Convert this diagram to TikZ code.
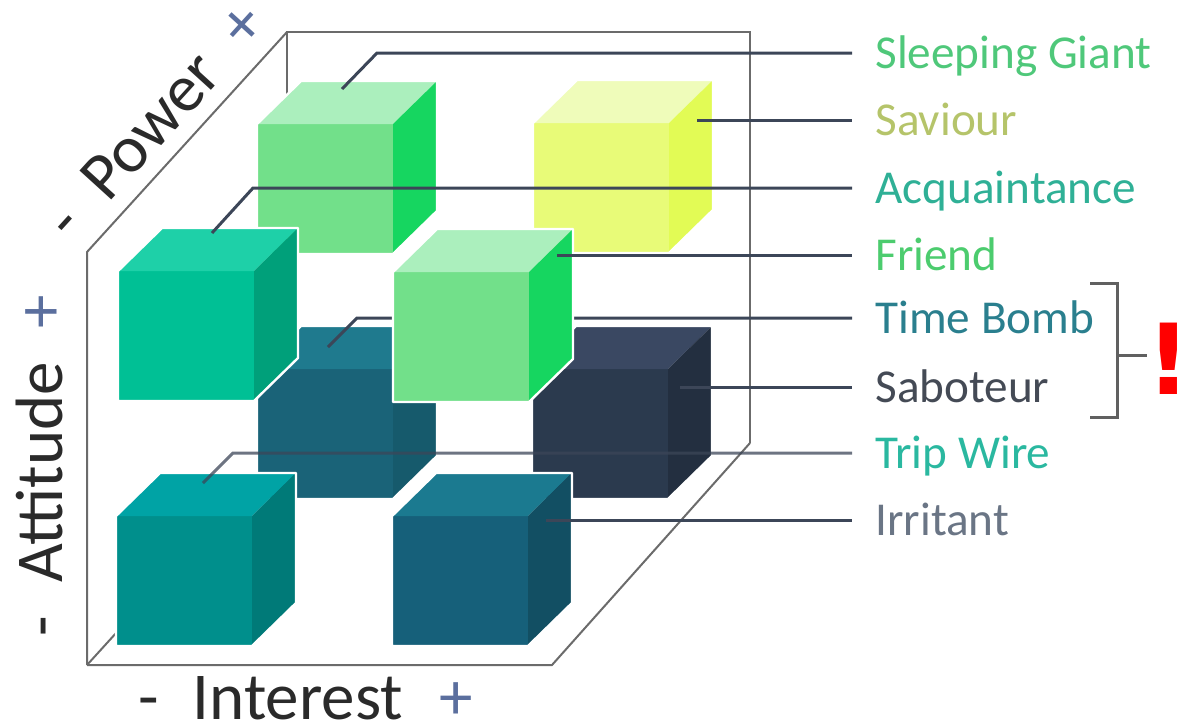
\documentclass[tikz,border=0pt]{standalone}
\usepackage{fontspec}
\setmainfont{Carlito}
\newfontfamily\bangfont{DejaVu Sans}
\usepackage{xcolor}
\usetikzlibrary{positioning}

\definecolor{framegrey}{HTML}{6B6B6B}
\definecolor{leadergrey}{HTML}{3C4658}
\definecolor{plusblue}{HTML}{5B6F9E}
\definecolor{axistext}{HTML}{2A2A2A}

\definecolor{lgfront}{HTML}{72E08A}
\definecolor{lgtop}{HTML}{ABEFBD}
\definecolor{lgside}{HTML}{16D660}
\definecolor{yefront}{HTML}{E8FB78}
\definecolor{yetop}{HTML}{EFFCBA}
\definecolor{yeside}{HTML}{E2FB55}
\definecolor{aqfront}{HTML}{00C095}
\definecolor{aqtop}{HTML}{1ED0A8}
\definecolor{aqside}{HTML}{00A07A}
\definecolor{tbfront}{HTML}{1A6378}
\definecolor{tbtop}{HTML}{1F7A8E}
\definecolor{tbside}{HTML}{165A6C}
\definecolor{sbfront}{HTML}{2B3A4E}
\definecolor{sbtop}{HTML}{3A4862}
\definecolor{sbside}{HTML}{232F40}
\definecolor{twfront}{HTML}{008F8C}
\definecolor{twtop}{HTML}{00A3A5}
\definecolor{twside}{HTML}{007A78}
\definecolor{irfront}{HTML}{16607A}
\definecolor{irtop}{HTML}{1B7A90}
\definecolor{irside}{HTML}{124F63}

\definecolor{sgtext}{HTML}{4FC87A}
\definecolor{savtext}{HTML}{B5C46A}
\definecolor{acqtext}{HTML}{2FB096}
\definecolor{frtext}{HTML}{4CCC6E}
\definecolor{tbtext}{HTML}{2A7F8E}
\definecolor{sabtext}{HTML}{444A55}
\definecolor{twtext}{HTML}{2AB8A0}
\definecolor{irtext}{HTML}{6A7585}

\tikzset{
  frameline/.style={draw=framegrey, line width=1pt},
  leader/.style={draw=leadergrey, line width=1.5pt},
  cubeedge/.style={draw=white, line width=1.2pt, line join=round},
  tag/.style={anchor=west, inner xsep=11.5pt, inner ysep=0pt,
    text height=15pt, text depth=0pt, font=\fontsize{23.6}{28}\selectfont},
  axislabel/.style={text=axistext, inner sep=0pt, font=\fontsize{33.5}{40}\selectfont}
}

% corner, front, top, side
\newcommand{\drawcube}[4]{%
  \begin{scope}[shift={#1}]
    \fill[#2] (0,0) rectangle (136,130);
    \fill[#3] (0,0) -- (44,-43) -- (180,-43) -- (136,0) -- cycle;
    \fill[#4] (136,0) -- (180,-43) -- (180,87) -- (136,130) -- cycle;
    \draw[cubeedge] (0,130) -- (0,0) -- (44,-43) -- (180,-43) -- (180,87) -- (136,130) -- cycle;
  \end{scope}}

\begin{document}
\begin{tikzpicture}[x=0.5pt, y=-0.5pt]
	\useasboundingbox (0,0) rectangle (1178,724);

	% box
	\draw [frameline] (87,665) -- (287,445);
	\draw [frameline] (287,445) -- (287,32) -- (750,32) -- (750,443);
	\draw [frameline] (87,665) -- (87,252) -- (287,32);
	\draw [frameline] (87,665) -- (552,665) -- (750,443);

	% back cubes
	\drawcube{(257,369)}{tbfront}{tbtop}{tbside}
	\drawcube{(532,369)}{sbfront}{sbtop}{sbside}
	\drawcube{(257,124)}{lgfront}{lgtop}{lgside}
	\drawcube{(533,123)}{yefront}{yetop}{yeside}

	% labels
	\node [tag, text=sgtext] (sg) at (852,53) {Sleeping Giant};
	\node [tag, text=savtext] (sav) at (852,120) {Saviour};
	\node [tag, text=acqtext] (acq) at (852,188) {Acquaintance};
	\node [tag, text=frtext] (fr) at (852,255) {Friend};
	\node [tag, text=tbtext] (tb) at (852,318) {Time Bomb};
	\node [tag, text=sabtext] (sab) at (852,387) {Saboteur};
	\node [tag, text=twtext] (tw) at (852,453) {Trip Wire};
	\node [tag, text=irtext] (irr) at (852,520) {Irritant};

	\coordinate (tbpt) at (328,347);
	\coordinate (tbbend) at (357,318);
	\draw [leader] (tbpt) -- (tbbend) -- (tbbend -| tb.west);

	% front cubes
	\drawcube{(116,516)}{twfront}{twtop}{twside}
	\drawcube{(392,516)}{irfront}{irtop}{irside}
	\drawcube{(118,271)}{aqfront}{aqtop}{aqside}
	\drawcube{(393,272)}{lgfront}{lgtop}{lgside}

	\coordinate (sgpt) at (342,89);
	\coordinate (sgbend) at (377,53);
	\coordinate (savpt) at (697,120);
	\coordinate (acqpt) at (212,233);
	\coordinate (acqbend) at (253,188);
	\coordinate (frpt) at (557,255);
	\coordinate (sabpt) at (680,387);
	\coordinate (twpt) at (203,483);
	\coordinate (twbend) at (233,453);
	\coordinate (irrpt) at (546,520);
	\draw [leader] (sgpt) -- (sgbend) -- (sgbend -| sg.west);
	\draw [leader] (savpt) -- (sav.west);
	\draw [leader] (acqpt) -- (acqbend) -- (acqbend -| acq.west);
	\draw [leader] (frpt) -- (fr.west);
	\draw [leader] (sabpt) -- (sab.west);
	\draw [leader, opacity=0.75] (twpt) -- (twbend) -- (twbend -| tw.west);
	\draw [leader] (irrpt) -- (irr.west);

	% axes
	\node [axislabel] (interest) at (306,698) {-\hspace{.5em}Interest\hspace{.55em}\textcolor{plusblue}{+}};
	\node [axislabel, rotate=90] (attitude) at (39,466) {-\hspace{.5em}Attitude\hspace{.5em}\textcolor{plusblue}{+}};
	\node [axislabel, rotate=47.7] (power) at (155,121) {-\hspace{.5em}Power\hspace{.5em}\textcolor{plusblue}{+}};

	% bracket
	\coordinate (brtop) at (1090,283);
	\coordinate (brbot) at (1090,417);
	\coordinate (brmid) at (1117,355);
	\node [anchor=base, text=red, inner sep=0pt, font=\bangfont\bfseries\fontsize{49}{52}\selectfont] (bang) at (1169,394) {!};
	\draw [draw=framegrey!90!black, line width=1.5pt] (brtop) -- (brtop -| brmid) -- (brbot -| brmid) -- (brbot);
	\draw [draw=framegrey!90!black, line width=1.5pt] (brmid) -- ++(30,0);
\end{tikzpicture}
\end{document}
